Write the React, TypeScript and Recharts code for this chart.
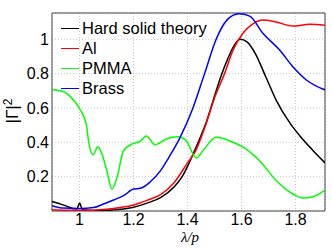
import React from 'react';
import { LineChart, Line, XAxis, YAxis, CartesianGrid, Legend, ReferenceArea } from 'recharts';

// wavelength / period samples and |Γ|^2
const hardX = [0.898, 0.92, 0.95, 0.975, 0.99, 1.0, 1.01, 1.03, 1.07, 1.12, 1.17, 1.2, 1.25, 1.3, 1.35, 1.38, 1.4, 1.42, 1.45, 1.47, 1.5, 1.525, 1.55, 1.575, 1.595, 1.62, 1.65, 1.69, 1.73, 1.78, 1.82, 1.86, 1.909];
const hardY = [0.056, 0.045, 0.03, 0.014, 0.012, 0.047, 0.01, 0.004, 0.003, 0.006, 0.013, 0.022, 0.046, 0.078, 0.14, 0.2, 0.26, 0.33, 0.44, 0.52, 0.67, 0.79, 0.89, 0.97, 1.0, 0.985, 0.92, 0.78, 0.64, 0.51, 0.43, 0.36, 0.28];

const alX = [0.898, 0.95, 1.0, 1.05, 1.1, 1.15, 1.2, 1.25, 1.3, 1.35, 1.4, 1.43, 1.467, 1.5, 1.537, 1.568, 1.605, 1.642, 1.679, 1.729, 1.79, 1.852, 1.909];
const alY = [0.008, 0.005, 0.004, 0.005, 0.01, 0.02, 0.035, 0.062, 0.095, 0.165, 0.28, 0.35, 0.5, 0.66, 0.8, 0.935, 1.035, 1.09, 1.112, 1.1, 1.077, 1.087, 1.081];

const pmmaX = [0.898, 0.941, 0.966, 1.003, 1.025, 1.033, 1.05, 1.068, 1.083, 1.101, 1.12, 1.139, 1.163, 1.2, 1.225, 1.247, 1.28, 1.321, 1.364, 1.395, 1.432, 1.457, 1.506, 1.568, 1.617, 1.667, 1.729, 1.79, 1.827, 1.864, 1.909];
const pmmaY = [0.708, 0.695, 0.666, 0.588, 0.507, 0.41, 0.328, 0.374, 0.332, 0.235, 0.128, 0.196, 0.351, 0.394, 0.406, 0.437, 0.386, 0.419, 0.433, 0.41, 0.309, 0.351, 0.429, 0.4, 0.361, 0.293, 0.176, 0.099, 0.076, 0.083, 0.122];

const brassX = [0.898, 0.94, 1.0, 1.052, 1.089, 1.126, 1.163, 1.2, 1.225, 1.262, 1.3, 1.33, 1.373, 1.42, 1.463, 1.506, 1.545, 1.59, 1.63, 1.679, 1.741, 1.79, 1.84, 1.909];
const brassY = [0.031, 0.017, 0.015, 0.02, 0.041, 0.064, 0.089, 0.128, 0.132, 0.17, 0.235, 0.31, 0.43, 0.6, 0.8, 1.0, 1.11, 1.148, 1.135, 1.035, 0.937, 0.84, 0.763, 0.705];

const xTicks = [1, 1.2, 1.4, 1.6, 1.8];
const yTicks = [0.2, 0.4, 0.6, 0.8, 1];

const toPoints = (xs: number[], ys: number[]) => xs.map((x, i) => ({ x, y: ys[i] }));

const series = [
  { name: 'Hard solid theory', color: '#000000', data: toPoints(hardX, hardY) },
  { name: 'Al', color: '#ff0000', data: toPoints(alX, alY) },
  { name: 'PMMA', color: '#00ff00', data: toPoints(pmmaX, pmmaY) },
  { name: 'Brass', color: '#0000ff', data: toPoints(brassX, brassY) },
];

const font = '"Liberation Sans", Arial, sans-serif';

const renderLegend = () => (
  <div style={{ fontFamily: font, fontSize: 16.5, color: '#000' }}>
    {series.map((s) => (
      <div key={s.name} style={{ display: 'flex', alignItems: 'center', height: 20 }}>
        <div style={{ width: 18, height: 0, borderTop: `1.5px solid ${s.color}`, marginRight: 3 }} />
        <span>{s.name}</span>
      </div>
    ))}
  </div>
);

const yLabel = () => (
  <text
    x={18}
    y={111}
    transform="rotate(-90, 18, 111)"
    textAnchor="middle"
    fontFamily={font}
    fontSize={17}
    fill="#000"
  >
    |Γ|<tspan dy={-6} fontSize={12}>2</tspan>
  </text>
);

const xLabel = () => (
  <text x={190} y={242} textAnchor="middle" fontFamily='"Liberation Serif", serif' fontStyle="italic" fontSize={15} fill="#000">
    λ/p
  </text>
);

const App: React.FC = () => {
  return (
    <div style={{ position: 'absolute', left: 0, top: 0, background: '#fff' }}>
      <LineChart width={332} height={248} margin={{ top: 13, right: 7, bottom: 0, left: 12 }}>
        <CartesianGrid stroke="#c8c8c8" strokeDasharray="1 2" />
        <XAxis
          type="number"
          dataKey="x"
          domain={[0.898, 1.909]}
          ticks={xTicks}
          height={37}
          tickLine={false}
          tickSize={0}
          tickMargin={3}
          axisLine={false}
          tick={{ fill: '#000', fontSize: 16, fontFamily: font }}
          label={xLabel}
          allowDataOverflow
        />
        <YAxis
          type="number"
          domain={[0, 1.153]}
          ticks={yTicks}
          width={40}
          tickLine={false}
          tickSize={0}
          tickMargin={3}
          axisLine={false}
          tick={{ fill: '#000', fontSize: 16, fontFamily: font }}
          label={yLabel}
          allowDataOverflow
        />
        <ReferenceArea x1={0.898} x2={1.909} y1={0} y2={1.153} fill="none" stroke="#444" strokeWidth={1} />
        <Legend
          layout="vertical"
          align="center"
          verticalAlign="middle"
          content={renderLegend}
          wrapperStyle={{ left: 61, top: 18, width: 'auto' }}
        />
        {series.map((s) => (
          <Line
            key={s.name}
            data={s.data}
            dataKey="y"
            name={s.name}
            type="monotone"
            stroke={s.color}
            strokeWidth={1.5}
            dot={false}
            isAnimationActive={false}
          />
        ))}
      </LineChart>
    </div>
  );
};

export default App;
